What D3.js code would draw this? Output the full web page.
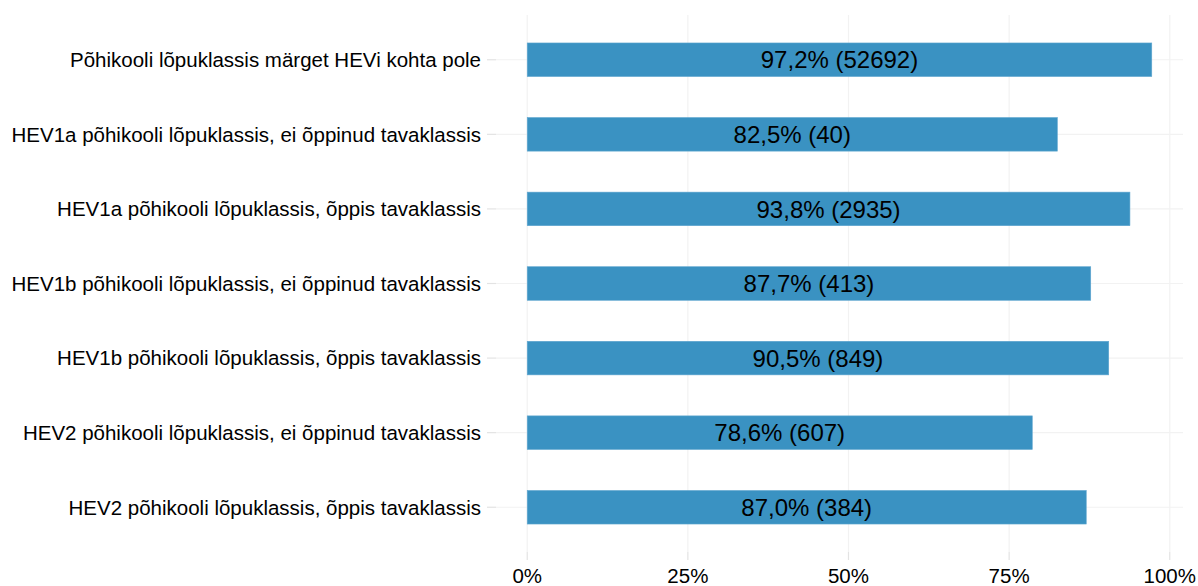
<!DOCTYPE html>
<html>
<head>
<meta charset="utf-8">
<script src="https://cdn.jsdelivr.net/npm/d3@7"></script>
<style>
  body { margin: 0; background: #fff; }
  text { font-family: "Liberation Sans", Arial, sans-serif; }
</style>
</head>
<body>
<div id="chart"></div>
<script>
// data
var categories = [
  'Põhikooli lõpuklassis märget HEVi kohta pole',
  'HEV1a põhikooli lõpuklassis, ei õppinud tavaklassis',
  'HEV1a põhikooli lõpuklassis, õppis tavaklassis',
  'HEV1b põhikooli lõpuklassis, ei õppinud tavaklassis',
  'HEV1b põhikooli lõpuklassis, õppis tavaklassis',
  'HEV2 põhikooli lõpuklassis, ei õppinud tavaklassis',
  'HEV2 põhikooli lõpuklassis, õppis tavaklassis'
];
var shares = [0.972, 0.825, 0.938, 0.877, 0.905, 0.786, 0.870];
var counts = [52692, 40, 2935, 413, 849, 607, 384];
var xTicks = [0, 0.25, 0.5, 0.75, 1];

// layout
var width = 1198, height = 586;
var panel = {left: 496, right: 1183, top: 15, bottom: 552};
var barColor = '#3a92c2';
var gridColor = '#f2f2f2';
var tickColor = '#e3e3e3';

var svg = d3.select('#chart').append('svg')
    .attr('width', width)
    .attr('height', height);

// x scale: 0 .. max with 5% expansion (ggplot-like)
var maxV = d3.max(shares);
var pad = maxV * 0.05;
var x = d3.scaleLinear()
    .domain([-pad, maxV + pad])
    .range([panel.left, panel.right]);

// y: discrete with 0.6 expansion
var n = categories.length;
var step = (panel.bottom - panel.top) / (n - 1 + 1.2);
var y = d3.scalePoint()
    .domain(categories)
    .range([panel.top + 0.6 * step, panel.bottom - 0.6 * step]);
var barH = step * 0.45;

// grid
svg.selectAll('.major')
  .data(xTicks)
  .enter().append('line')
    .attr('x1', d => x(d)).attr('x2', d => x(d))
    .attr('y1', panel.top).attr('y2', panel.bottom)
    .attr('stroke', gridColor).attr('stroke-width', 1.2);

svg.selectAll('.hgrid')
  .data(categories)
  .enter().append('line')
    .attr('x1', panel.left).attr('x2', panel.right)
    .attr('y1', d => y(d)).attr('y2', d => y(d))
    .attr('stroke', gridColor).attr('stroke-width', 1.2);

// ticks
svg.selectAll('.xtick')
  .data(xTicks)
  .enter().append('line')
    .attr('x1', d => x(d)).attr('x2', d => x(d))
    .attr('y1', panel.bottom).attr('y2', panel.bottom + 8)
    .attr('stroke', tickColor).attr('stroke-width', 1.2);

svg.selectAll('.ytick')
  .data(categories)
  .enter().append('line')
    .attr('x1', panel.left - 9).attr('x2', panel.left)
    .attr('y1', d => y(d)).attr('y2', d => y(d))
    .attr('stroke', tickColor).attr('stroke-width', 1.2);

// bars
svg.selectAll('.bar')
  .data(categories)
  .enter().append('rect')
    .attr('x', x(0))
    .attr('y', d => y(d) - barH / 2)
    .attr('width', (d, i) => x(shares[i]) - x(0))
    .attr('height', barH)
    .attr('fill', barColor)
    .attr('stroke', '#5fa6cf')
    .attr('stroke-width', 0.6);

// bar labels
var fmt = d3.format('.1f');
svg.selectAll('.lab')
  .data(categories)
  .enter().append('text')
    .attr('x', (d, i) => (x(0) + x(shares[i])) / 2)
    .attr('y', d => y(d))
    .attr('dy', '0.36em')
    .attr('text-anchor', 'middle')
    .style('font-size', '24px')
    .attr('fill', '#000')
    .text((d, i) => fmt(shares[i] * 100).replace('.', ',') + '% (' + counts[i] + ')');

// y labels
svg.selectAll('.ylab')
  .data(categories)
  .enter().append('text')
    .attr('x', panel.left - 15)
    .attr('y', d => y(d))
    .attr('dy', '0.36em')
    .attr('text-anchor', 'end')
    .style('font-size', '20.5px')
    .attr('fill', '#000')
    .text(d => d);

// x labels
svg.selectAll('.xlab')
  .data(xTicks)
  .enter().append('text')
    .attr('x', d => x(d))
    .attr('y', 583)
    .attr('text-anchor', 'middle')
    .style('font-size', '20.5px')
    .attr('fill', '#000')
    .text(d => Math.round(d * 100) + '%');
</script>
</body>
</html>
